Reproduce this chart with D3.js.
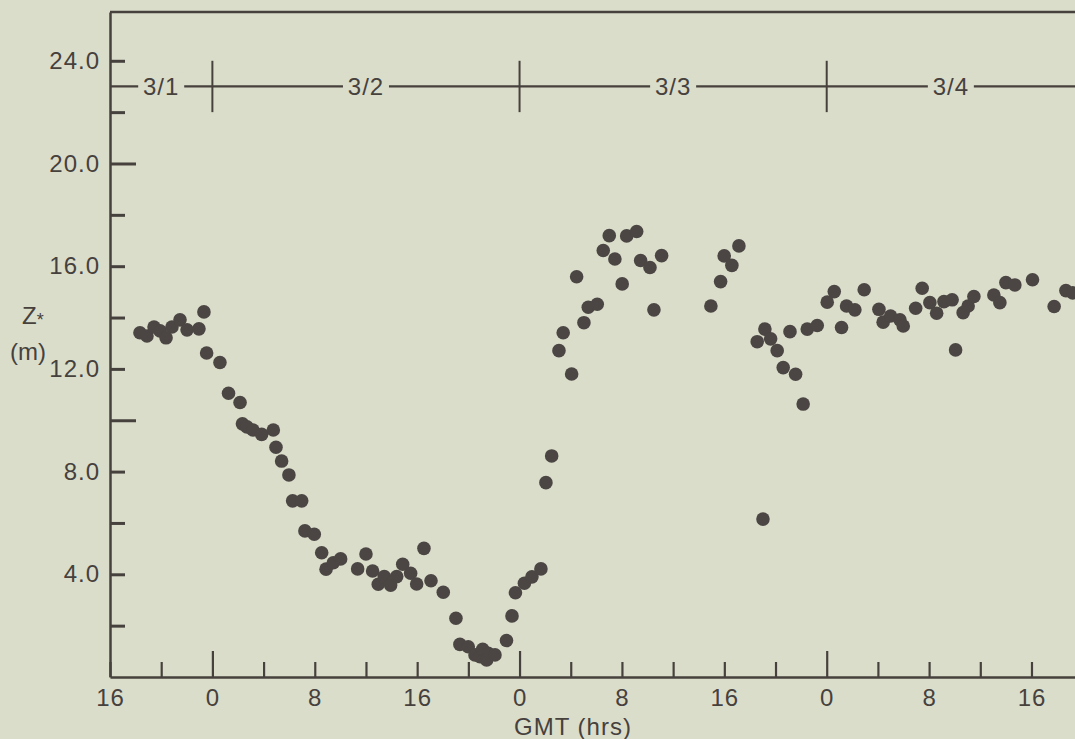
<!DOCTYPE html>
<html>
<head>
<meta charset="utf-8">
<script src="https://cdn.jsdelivr.net/npm/d3@7"></script>
<style>
  html, body { margin: 0; padding: 0; background: #dbddcb; }
  svg { display: block; }
</style>
</head>
<body>
<div id="chart"></div>
<script>
// Z* (m) vs GMT, 1-4 March. Time in hours since 3/1 00:00 GMT
const hours = [
  18.34, 18.89, 19.44, 19.91, 20.38, 20.84, 21.47, 22.02, 22.95, 23.34,
  23.55, 24.59, 25.26, 26.16, 26.35, 26.70, 27.17, 27.85, 28.76, 28.97,
  29.41, 29.98, 30.27, 30.98, 31.23, 31.96, 32.54, 32.88, 33.45, 34.02,
  35.35, 36.00, 36.52, 36.96, 37.43, 37.93, 38.40, 38.87, 39.49, 39.96,
  40.53, 41.08, 42.04, 43.03, 43.34, 43.99, 44.52, 44.91, 45.12, 45.55,
  45.43, 46.08, 46.98, 47.41, 47.68, 48.38, 48.97, 49.67, 50.06, 50.51,
  51.08, 51.41, 52.07, 52.46, 53.03, 53.37, 54.07, 54.54, 55.01, 55.45,
  56.02, 56.37, 57.15, 57.46, 58.19, 58.50, 59.10, 62.95, 63.71, 63.99,
  64.59, 65.14, 66.57, 67.17, 67.02, 67.62, 68.13, 68.60, 69.13, 69.57,
  70.16, 70.48, 71.26, 72.04, 72.59, 73.16, 73.55, 74.20, 74.93, 76.08,
  76.41, 76.99, 77.72, 77.98, 78.95, 79.46, 80.06, 80.59, 81.16, 81.80,
  82.07, 82.66, 83.05, 83.50, 85.06, 85.53, 86.00, 86.70, 88.08, 89.77,
  90.69, 91.23
];
const zStar = [
  13.41, 13.28, 13.63, 13.48, 13.21, 13.63, 13.91, 13.52, 13.56, 14.22,
  12.62, 12.25, 11.05, 10.69, 9.86, 9.74, 9.62, 9.45, 9.62, 8.95,
  8.41, 7.87, 6.86, 6.86, 5.69, 5.56, 4.84, 4.20, 4.45, 4.60,
  4.21, 4.79, 4.13, 3.61, 3.91, 3.58, 3.91, 4.39, 4.04, 3.62,
  5.01, 3.75, 3.30, 2.29, 1.27, 1.18, 0.86, 0.79, 1.08, 0.92,
  0.66, 0.86, 1.42, 2.38, 3.28, 3.65, 3.90, 4.21, 7.57, 8.61,
  12.71, 13.41, 11.80, 15.59, 13.80, 14.40, 14.52, 16.61, 17.19, 16.28,
  15.31, 17.18, 17.35, 16.22, 15.95, 14.30, 16.41, 14.45, 15.40, 16.40,
  16.03, 16.79, 13.06, 13.55, 6.15, 13.17, 12.71, 12.05, 13.45, 11.79,
  10.63, 13.55, 13.69, 14.60, 15.01, 13.61, 14.45, 14.30, 15.08, 14.32,
  13.82, 14.06, 13.91, 13.67, 14.36, 15.14, 14.58, 14.17, 14.62, 14.69,
  12.74, 14.19, 14.45, 14.82, 14.88, 14.58, 15.36, 15.27, 15.47, 14.43,
  15.05, 14.96
];

const dayLabels = ["3/1", "3/2", "3/3", "3/4"];
const dayStarts = [0, 24, 48, 72];
const xTickValues = d3.range(16, 89, 4);
const yTickValues = d3.range(2, 25, 2);
const yLongTicks = [10, 20];

const W = 1075, H = 739;
const ink = "#46413d";
const bg = "#dbddcb";
const font = "'Liberation Sans', Arial, sans-serif";

const svg = d3.select("#chart").append("svg")
    .attr("width", W)
    .attr("height", H)
    .style("font-family", font);

svg.append("rect").attr("width", W).attr("height", H).attr("fill", bg);

// scales
const x = d3.scaleLinear().domain([16, 91.4]).range([110, 1075]);
const y = d3.scaleLinear().domain([0, 25.9]).range([677, 12]);

// top frame
svg.append("line")
    .attr("x1", x(16)).attr("x2", x(91.4))
    .attr("y1", y(25.9)).attr("y2", y(25.9))
    .attr("stroke", ink).attr("stroke-width", 2.5);

// y axis (ticks point inward)
const yAxis = svg.append("g")
    .attr("transform", `translate(${x(16)},0)`)
    .call(d3.axisLeft(y)
        .tickValues(yTickValues)
        .tickSize(-15)
        .tickSizeOuter(0)
        .tickPadding(10)
        .tickFormat(d => d % 4 === 0 ? d3.format(".1f")(d) : ""));

yAxis.selectAll(".tick line")
    .attr("x2", d => yLongTicks.includes(d) ? 26 : 15)
    .attr("stroke-width", 3);

// x axis
const xAxis = svg.append("g")
    .attr("transform", `translate(0,${y(0)})`)
    .call(d3.axisBottom(x)
        .tickValues(xTickValues)
        .tickSize(-15)
        .tickSizeOuter(0)
        .tickPadding(12)
        .tickFormat(d => d % 8 === 0 ? String(d % 24) : ""));

xAxis.selectAll(".tick line")
    .attr("y2", d => d % 24 === 0 ? -26 : -15)
    .attr("stroke-width", 2.2);

[yAxis, xAxis].forEach(ax => {
    ax.select(".domain").attr("stroke", ink).attr("stroke-width", 2.5);
    ax.selectAll(".tick line").attr("stroke", ink);
    ax.selectAll(".tick text")
        .attr("fill", ink)
        .style("font-size", "24px")
        .style("letter-spacing", "1px")
        .style("font-family", font);
});
xAxis.selectAll(".tick text").attr("dy", "0.72em");

// date band
const band = svg.append("g");
band.append("line")
    .attr("x1", x(16)).attr("x2", x(91.4))
    .attr("y1", y(23)).attr("y2", y(23))
    .attr("stroke", ink).attr("stroke-width", 2.2);

band.selectAll(".day-tick")
    .data(dayStarts.filter(d => d > 16))
    .join("line")
    .attr("x1", d => x(d)).attr("x2", d => x(d))
    .attr("y1", y(24)).attr("y2", y(22))
    .attr("stroke", ink).attr("stroke-width", 2);

const dayMid = dayStarts.map(d => (Math.max(d, 16) + Math.min(d + 24, 91.4)) / 2);
const labels = band.selectAll(".day")
    .data(dayLabels)
    .join("g")
    .attr("transform", (d, i) => `translate(${x(dayMid[i])},${y(23)})`);

labels.append("rect")
    .attr("x", -23).attr("y", -14)
    .attr("width", 46).attr("height", 28)
    .attr("fill", bg);

labels.append("text")
    .attr("text-anchor", "middle")
    .attr("dy", "0.36em")
    .attr("fill", ink)
    .style("font-size", "24px")
    .style("letter-spacing", "1px")
    .text(d => d);

// points
svg.append("g")
    .selectAll("circle")
    .data(hours.map((h, i) => ({h, z: zStar[i]})))
    .join("circle")
    .attr("cx", d => x(d.h))
    .attr("cy", d => y(d.z))
    .attr("r", 6.8)
    .attr("fill", "#4b4643");

// axis titles
const yTitle = svg.append("text")
    .attr("x", 22).attr("y", 324)
    .attr("fill", ink)
    .style("font-size", "24px");
yTitle.append("tspan").text("Z");
yTitle.append("tspan").attr("dy", 2).style("font-size", "18px").text("*");

svg.append("text")
    .attr("x", 10).attr("y", 360)
    .attr("fill", ink)
    .style("font-size", "24px")
    .text("(m)");

svg.append("text")
    .attr("x", 573).attr("y", 735)
    .attr("text-anchor", "middle")
    .attr("fill", ink)
    .style("font-size", "24px")
    .style("letter-spacing", "1px")
    .text("GMT (hrs)");
</script>
</body>
</html>
